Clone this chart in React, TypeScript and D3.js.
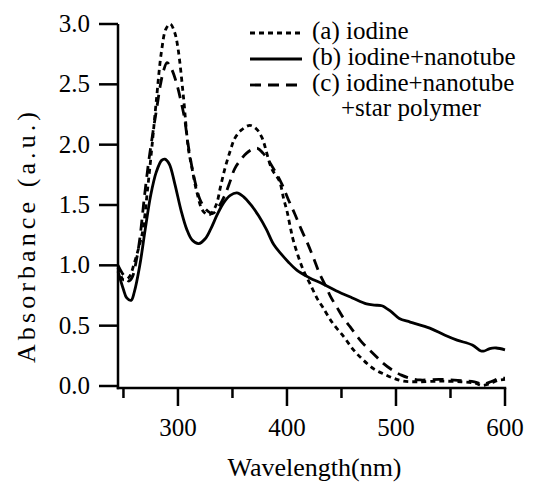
import React, { useEffect, useRef } from "react";
import * as d3 from "d3";

// ---- data ----
const seriesNames = ["(a) iodine", "(b) iodine+nanotube", "(c) iodine+nanotube"];
const legendExtra = "+star polymer";

const wlA = [245, 250, 255, 260, 265, 268, 272, 276, 280, 285, 289, 293, 297, 300, 305, 309.5, 313, 317, 323, 329, 335, 339, 343, 348, 352, 358, 366, 372, 377, 386, 393, 397, 400, 403, 406, 415, 421, 428, 433, 442, 452, 461, 470, 480, 490, 498, 507, 520, 540, 560, 572, 579, 586, 593, 600];
const absA = [0.98, 0.88, 0.9, 1.02, 1.18, 1.3, 1.62, 1.97, 2.35, 2.78, 2.96, 3.0, 2.93, 2.8, 2.4, 1.97, 1.8, 1.62, 1.45, 1.42, 1.5, 1.65, 1.8, 1.95, 2.05, 2.12, 2.16, 2.13, 2.06, 1.8, 1.7, 1.55, 1.45, 1.32, 1.2, 0.96, 0.85, 0.72, 0.65, 0.52, 0.41, 0.3, 0.215, 0.14, 0.095, 0.064, 0.04, 0.035, 0.04, 0.035, 0.025, 0.005, 0.02, 0.045, 0.055];

const wlB = [245, 250, 253, 257, 260, 265, 270, 275, 280, 285, 288, 292, 297, 303, 308, 313, 319, 325, 330, 336, 342, 348, 354, 360, 367, 374, 381, 388, 395, 401, 409, 420, 433, 445, 460, 473, 480, 487, 495, 503, 513, 531, 545, 556, 570, 578, 581, 586, 592, 600];
const absB = [0.95, 0.8, 0.73, 0.71, 0.78, 1.0, 1.3, 1.58, 1.77, 1.87, 1.88, 1.84, 1.68, 1.45, 1.3, 1.21, 1.18, 1.22, 1.3, 1.42, 1.52, 1.58, 1.6, 1.57, 1.5, 1.41, 1.3, 1.17, 1.09, 1.03, 0.96, 0.9, 0.845, 0.79, 0.73, 0.68, 0.67, 0.665, 0.62, 0.56, 0.53, 0.48, 0.42, 0.38, 0.34, 0.29, 0.29, 0.31, 0.315, 0.3];

const wlC = [245, 250, 255, 258, 262, 265, 269, 273, 277, 280.5, 284, 287, 290, 294, 299, 303, 306, 309, 312.5, 316, 320, 326, 332, 337, 343, 348, 352, 358, 363, 368, 373, 378, 383, 389, 395, 401, 407, 413, 419, 424, 430, 436, 440, 446, 452, 458, 468, 479, 488, 497, 505, 513, 522, 540, 560, 572, 580, 587, 594, 600];
const absC = [1.0, 0.92, 0.87, 0.9, 1.05, 1.22, 1.55, 1.85, 2.1, 2.3, 2.5, 2.62, 2.68, 2.63, 2.5, 2.35, 2.22, 2.02, 1.83, 1.68, 1.55, 1.46, 1.43, 1.48, 1.58, 1.7, 1.8, 1.88, 1.93, 1.96, 1.97, 1.93, 1.87, 1.78, 1.68, 1.55, 1.43, 1.3, 1.18, 1.07, 0.93, 0.82, 0.74, 0.65, 0.56, 0.49, 0.37, 0.27, 0.19, 0.13, 0.09, 0.064, 0.05, 0.055, 0.045, 0.035, 0.015, 0.035, 0.06, 0.065];

const yTicks = [0, 0.5, 1.0, 1.5, 2.0, 2.5, 3.0];
const xMajorTicks = [300, 400, 500, 600];
const xMinorTicks = [250, 350, 450, 550];
const xTitle = "Wavelength(nm)";
const yTitle = "Absorbance (a.u.)";

const W = 536;
const H = 482;
const SERIF = "'Liberation Serif', serif";

export default function App() {
  const ref = useRef<SVGSVGElement>(null);
  const x = d3.scaleLinear().domain([245, 600]).range([118, 505]);
  const y = d3.scaleLinear().domain([-0.0166, 3]).range([388, 24]);
  const line = d3
    .line<[number, number]>()
    .x((d) => x(d[0]))
    .y((d) => y(d[1]))
    .curve(d3.curveCatmullRom.alpha(0.5));

  const zip = (a: number[], b: number[]) => a.map((v, i) => [v, b[i]] as [number, number]);
  const series = [
    { pts: zip(wlA, absA), dash: "5 4" },
    { pts: zip(wlB, absB), dash: undefined },
    { pts: zip(wlC, absC), dash: "11 7" },
  ];

  const axisY = y(-0.0166);
  const x0 = x(245);
  const legendBase = [39, 65, 91];

  useEffect(() => {
    if (!ref.current) return;
    ref.current.querySelectorAll("text").forEach((t) => {
      (t as SVGTextElement).style.setProperty("font-family", SERIF, "important");
    });
  }, []);

  return (
    <svg
      ref={ref}
      width={W}
      height={H}
      style={{ position: "absolute", left: 0, top: 0, background: "#fff" }}
    >
      <style>{`svg text { font-family: 'Liberation Serif', serif !important; }`}</style>
      {series.map((s, i) => (
        <path
          key={i}
          d={line(s.pts) || ""}
          fill="none"
          stroke="#000"
          strokeWidth={2.8}
          strokeDasharray={s.dash}
        />
      ))}
      <line x1={x0} x2={x0} y1={y(3)} y2={axisY + 1.25} stroke="#000" strokeWidth={2.5} />
      <line x1={x0 - 1.25} x2={x(600) + 1.25} y1={axisY} y2={axisY} stroke="#000" strokeWidth={2.5} />
      {yTicks.map((t) => (
        <g key={t}>
          <line x1={x0 - 19} x2={x0} y1={y(t)} y2={y(t)} stroke="#000" strokeWidth={2.5} />
          <text x={90} y={y(t) + 8} textAnchor="end" fontSize={25} fontFamily={SERIF}>
            {t.toFixed(1)}
          </text>
        </g>
      ))}
      {xMajorTicks.map((t) => (
        <g key={t}>
          <line x1={x(t)} x2={x(t)} y1={axisY} y2={axisY + 18} stroke="#000" strokeWidth={2.5} />
          <text x={x(t)} y={436} textAnchor="middle" fontSize={25} fontFamily={SERIF}>
            {t}
          </text>
        </g>
      ))}
      {xMinorTicks.map((t) => (
        <line key={t} x1={x(t)} x2={x(t)} y1={axisY} y2={axisY + 10} stroke="#000" strokeWidth={2.5} />
      ))}
      <text x={(x0 + x(600)) / 2 + 3} y={476} textAnchor="middle" fontSize={26} fontFamily={SERIF}>
        {xTitle}
      </text>
      <text
        transform={`translate(35, 237.5) rotate(-90)`}
        textAnchor="middle"
        fontSize={26}
        textLength={251}
        lengthAdjust="spacing"
        fontFamily={SERIF}
      >
        {yTitle}
      </text>
      {series.map((s, i) => (
        <g key={i}>
          <line
            x1={250}
            x2={302}
            y1={legendBase[i] - 6}
            y2={legendBase[i] - 6}
            stroke="#000"
            strokeWidth={2.8}
            strokeDasharray={s.dash}
          />
          <text x={312} y={legendBase[i]} fontSize={25} fontFamily={SERIF}>
            {seriesNames[i]}
          </text>
        </g>
      ))}
      <text x={341} y={116} fontSize={25} fontFamily={SERIF}>
        {legendExtra}
      </text>
    </svg>
  );
}
